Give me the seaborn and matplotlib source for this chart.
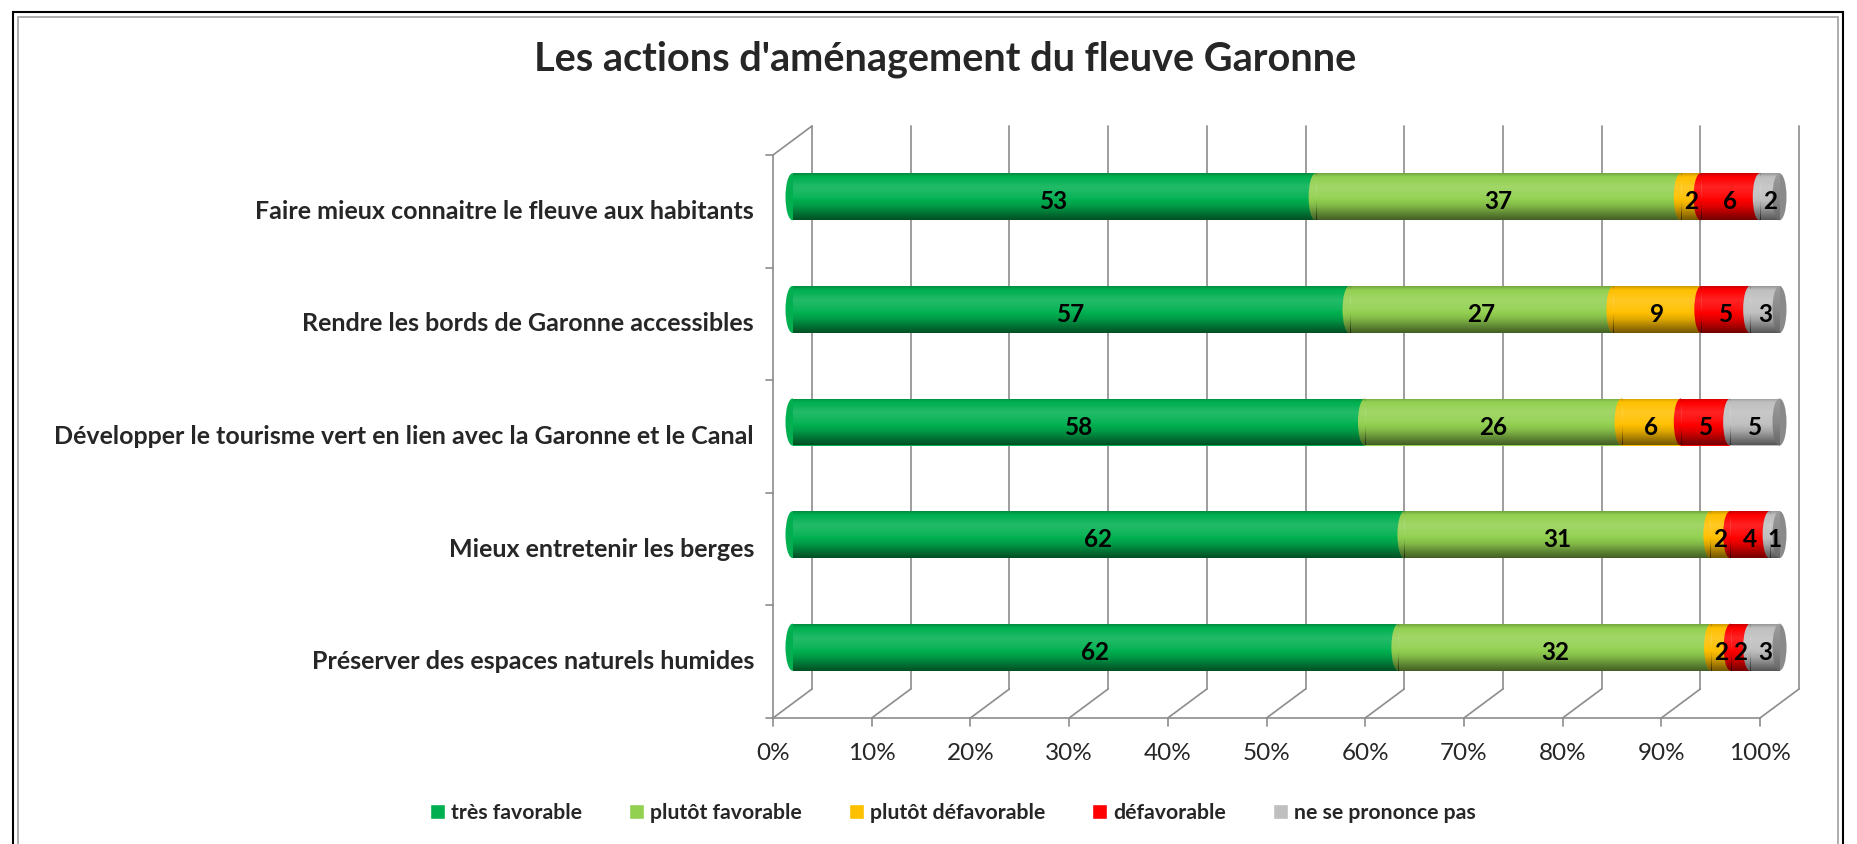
import numpy as np
import pandas as pd
import matplotlib
matplotlib.use("Agg")
import matplotlib.pyplot as plt
import seaborn as sns
from matplotlib.patches import Ellipse, Rectangle, Patch
from matplotlib.transforms import Bbox, TransformedBbox

# data (top to bottom)
categories = [
    "Faire mieux connaitre le fleuve aux habitants",
    "Rendre les bords de Garonne accessibles",
    "Développer le tourisme vert en lien avec la Garonne et le Canal",
    "Mieux entretenir les berges",
    "Préserver des espaces naturels humides",
]
tres_favorable = [53, 57, 58, 62, 62]
plutot_favorable = [37, 27, 26, 31, 32]
plutot_defavorable = [2, 9, 6, 2, 2]
defavorable = [6, 5, 5, 4, 2]
ne_se_prononce_pas = [2, 3, 5, 1, 3]

series_names = ["très favorable", "plutôt favorable", "plutôt défavorable",
                "défavorable", "ne se prononce pas"]
colors = ["#00B050", "#92D050", "#FFC000", "#FF0000", "#BFBFBF"]
cap_color = "#8a8a8a"
grid_color = "#8c8c8c"

sns.set_style("white")
plt.rcParams["font.family"] = ["Lato", "DejaVu Sans"]

W, H, DPI = 1857, 844, 100
fig = plt.figure(figsize=(W / DPI, H / DPI), dpi=DPI)

# axes = the plane through the middle of the cylinders
ax_w, ax_h = 987, 563
ax = fig.add_axes([792.5 / W, (H - 703.5) / H, ax_w / W, ax_h / H])

df = pd.DataFrame(
    {
        series_names[0]: tres_favorable,
        series_names[1]: plutot_favorable,
        series_names[2]: plutot_defavorable,
        series_names[3]: defavorable,
        series_names[4]: ne_se_prononce_pas,
    },
    index=categories,
)
pct = df.div(df.sum(axis=1), axis=0) * 100
cum = pct.cumsum(axis=1)

n = len(categories)
px_x = ax_w / 100
px_y = ax_h / n
ux = 19.5 / px_x      # half depth, x
uy = 14.5 / px_y      # half depth, y
BAR_H = 47 / px_y
cap_w = 14 / px_x

# cylinder shading profile (top -> bottom), >0 white, <0 black
t = np.linspace(0, 1, 80)
v = np.interp(t, [0, .08, .3, .5, .7, .88, 1], [-.2, 0, .14, .06, -.12, -.38, -.55])
shade = np.zeros((80, 1, 4))
shade[:, 0, :3] = (v > 0)[:, None] * 1.0
shade[:, 0, 3] = np.abs(v)

v2 = np.interp(t, [0, .5, 1], [.15, 0, -.25])
shade_cap = np.zeros((80, 1, 4))
shade_cap[:, 0, :3] = (v2 > 0)[:, None] * 1.0
shade_cap[:, 0, 3] = np.abs(v2)


def add_shade(patch, x0, x1, yc, z, img=shade):
    im = ax.imshow(img, extent=(x0, x1, yc + BAR_H / 2, yc - BAR_H / 2),
                   aspect="auto", interpolation="bilinear", zorder=z)
    im.set_clip_path(patch)


def left_half_ellipse(xc, yc, color, z):
    # ellipse centred on a segment start, only its left half is kept
    e = Ellipse((xc, yc), cap_w, BAR_H, facecolor=color, lw=0, zorder=z)
    ax.add_patch(e)
    box = Bbox([[xc - cap_w, yc - BAR_H], [xc, yc + BAR_H]])
    e.set_clip_box(TransformedBbox(box, ax.transData))
    e.set_clip_on(True)
    add_shade(e, xc - cap_w / 2, xc, yc, z + 0.02)


# walls and floor
lw = 1.2
for x in range(0, 101, 10):
    ax.plot([x + ux, x + ux], [-0.5 - uy, n - 0.5 - uy], color=grid_color, lw=lw,
            clip_on=False, zorder=1)
    ax.plot([x + ux, x - ux], [n - 0.5 - uy, n - 0.5 + uy], color=grid_color, lw=lw,
            clip_on=False, zorder=1)
    ax.plot([x - ux, x - ux], [n - 0.5 + uy, n - 0.5 + uy + 8 / px_y], color=grid_color,
            lw=lw, clip_on=False, zorder=1)
    ax.text(x - ux, n - 0.5 + uy + 35 / px_y, f"{x}%", ha="center", va="center",
            fontsize=17.5)
ax.plot([-ux, 100 - ux], [n - 0.5 + uy] * 2, color=grid_color, lw=lw, clip_on=False, zorder=1)
ax.plot([-ux, -ux], [-0.5 + uy, n - 0.5 + uy], color=grid_color, lw=lw, clip_on=False, zorder=1)
ax.plot([-ux, ux], [-0.5 + uy, -0.5 - uy], color=grid_color, lw=lw, clip_on=False, zorder=1)
for k in range(n + 1):
    yk = k - 0.5 + uy
    ax.plot([-ux, -ux - 7 / px_x], [yk, yk], color=grid_color, lw=lw, clip_on=False, zorder=1)

# stacked cylinders: draw cumulative bars from the last series to the first
nser = len(series_names)
zs = {k: 3 + (nser - k) * 2 for k in range(nser)}
for k in reversed(range(nser)):
    col = series_names[k]
    z = zs[k]
    before = len(ax.patches)
    sns.barplot(x=cum[col].values, y=categories, orient="h", color=colors[k],
                saturation=1, width=BAR_H, errorbar=None, linewidth=0, ax=ax)
    for p in ax.patches[before:]:
        p.set_zorder(z)
        yc = p.get_y() + p.get_height() / 2
        xr = p.get_width()
        add_shade(p, 0, xr, yc, z + 0.05)
        if k == nser - 1:
            cap = Ellipse((xr, yc), cap_w, BAR_H, facecolor=cap_color, lw=0,
                          zorder=z + 0.5, clip_on=False)
            ax.add_patch(cap)
            add_shade(cap, xr - cap_w / 2, xr + cap_w / 2, yc, z + 0.55, shade_cap)

# curved joints between segments and rounded start of each cylinder
for i, cat in enumerate(categories):
    left_half_ellipse(0, i, colors[0], zs[0] + 0.1)
    for k in range(1, nser):
        left_half_ellipse(cum.loc[cat, series_names[k - 1]], i, colors[k],
                          zs[k - 1] + 0.1)

# value labels
for i, cat in enumerate(categories):
    prev = 0
    for k, col in enumerate(series_names):
        mid = prev + pct.loc[cat, col] / 2
        prev += pct.loc[cat, col]
        ax.text(mid, i + uy * 0.35, str(df.loc[cat, col]), ha="center", va="center",
                fontsize=17.5, fontweight="bold", color="black", zorder=30)
    ax.text(-ux - 19 / px_x, i + uy, cat, ha="right", va="center",
            fontsize=18, fontweight="bold")

ax.set_xlim(0, 100)
ax.set_ylim(n - 0.5, -0.5)
ax.set_axis_off()

fig.text(945 / W, 1 - 59 / H, "Les actions d'aménagement du fleuve Garonne",
         ha="center", va="center", fontsize=28.5, fontweight="bold")

handles = [Patch(facecolor=c, label=l) for c, l in zip(colors, series_names)]
fig.legend(handles=handles, loc="center", bbox_to_anchor=(953 / W, 1 - 813 / H),
           ncol=5, frameon=False, prop={"weight": "bold", "size": 15.3},
           handlelength=0.7, handleheight=0.7, handletextpad=0.3,
           columnspacing=2.2)

# frame
fig.add_artist(Rectangle((13 / W, -0.02), (1843 - 13) / W, (H - 12) / H + 0.02,
                         transform=fig.transFigure, fill=False, edgecolor="black", lw=1.5))
fig.add_artist(Rectangle((18 / W, -0.02), (1838 - 18) / W, (H - 17) / H + 0.02,
                         transform=fig.transFigure, fill=False, edgecolor="#a0a0a0", lw=1.2))

fig.savefig("out.png", dpi=DPI)
